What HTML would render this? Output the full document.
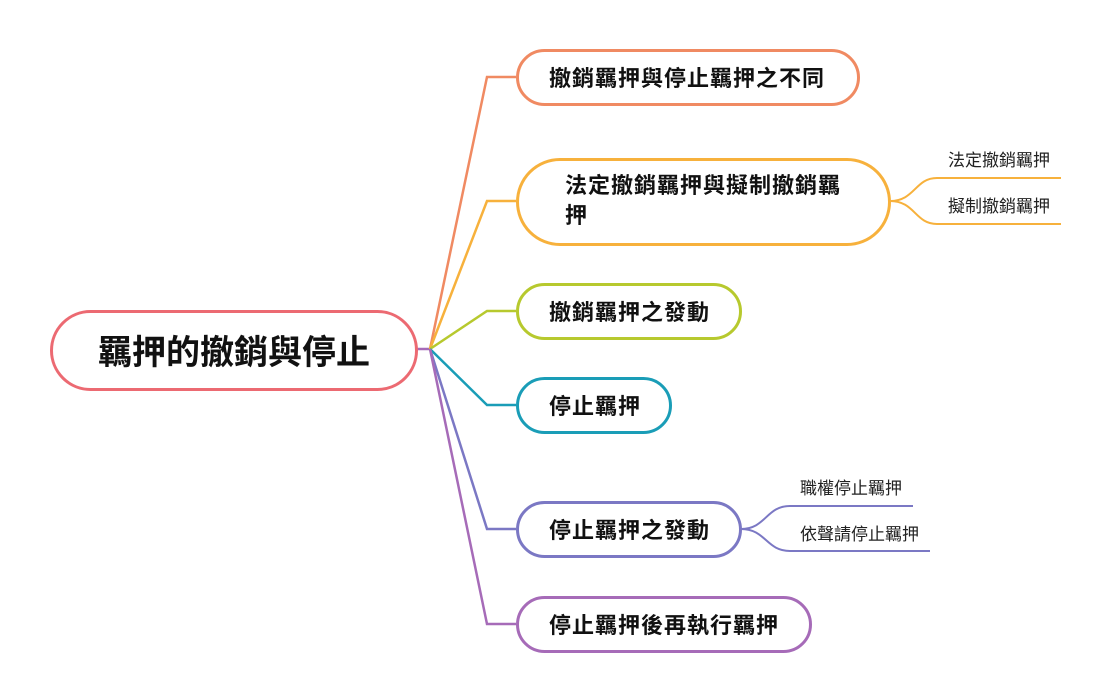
<!DOCTYPE html>
<html><head><meta charset="utf-8"><style>
body{margin:0;background:#fff;width:1110px;height:699px;overflow:hidden;position:relative;font-family:"Liberation Sans","Noto Sans CJK TC",sans-serif}
.n{position:absolute;box-sizing:border-box;border:3px solid;border-radius:30px;background:#fff;font-weight:bold;font-size:22px;letter-spacing:1px;color:#111;display:flex;align-items:center;padding-left:30px;padding-bottom:2px}
.s{position:absolute;font-size:17px;color:#222}
</style></head><body>
<svg width="1110" height="699" style="position:absolute;left:0;top:0" fill="none" stroke-width="2.5">
<line x1="417" y1="349" x2="431" y2="349" stroke="#a66bb8"/>
<polyline points="430,349 487,77 516,77" stroke="#f08a62"/>
<polyline points="430,349 487,201 516,201" stroke="#f7b13c"/>
<polyline points="430,349 487,311 516,311" stroke="#b7c92e"/>
<polyline points="430,349 487,405 516,405" stroke="#1a9db7"/>
<polyline points="430,349 487,529 516,529" stroke="#7b78c4"/>
<polyline points="430,349 487,624 516,624" stroke="#a66bb8"/>
<path d="M890,201 C915,201 915,178 937,178 L1061,178 M890,201 C915,201 915,224 937,224 L1061,224" stroke="#f7b13c" stroke-width="2"/>
<path d="M741,529 C766,529 766,506 790,506 L913,506 M741,529 C766,529 766,551 790,551 L930,551" stroke="#7b78c4" stroke-width="2"/>
</svg>
<div class="n" style="left:50px;top:310px;width:368px;height:81px;border-radius:41px;border-color:#ec6a72;font-size:34px;letter-spacing:0;padding-left:45px">羈押的撤銷與停止</div>
<div class="n" style="left:516px;top:49px;width:344px;height:57px;border-color:#f08a62">撤銷羈押與停止羈押之不同</div>
<div class="n" style="left:516px;top:158px;width:375px;height:88px;border-radius:44px;border-color:#f7b13c;padding-left:46px;line-height:30px;padding-right:40px">法定撤銷羈押與擬制撤銷羈押</div>
<div class="n" style="left:516px;top:283px;width:226px;height:57px;border-color:#b7c92e">撤銷羈押之發動</div>
<div class="n" style="left:516px;top:377px;width:156px;height:57px;border-color:#1a9db7">停止羈押</div>
<div class="n" style="left:516px;top:501px;width:226px;height:57px;border-color:#7b78c4">停止羈押之發動</div>
<div class="n" style="left:516px;top:596px;width:296px;height:57px;border-color:#a66bb8">停止羈押後再執行羈押</div>
<div class="s" style="left:948px;top:146px">法定撤銷羈押</div>
<div class="s" style="left:948px;top:192px">擬制撤銷羈押</div>
<div class="s" style="left:800px;top:474px">職權停止羈押</div>
<div class="s" style="left:800px;top:520px">依聲請停止羈押</div>
</body></html>
